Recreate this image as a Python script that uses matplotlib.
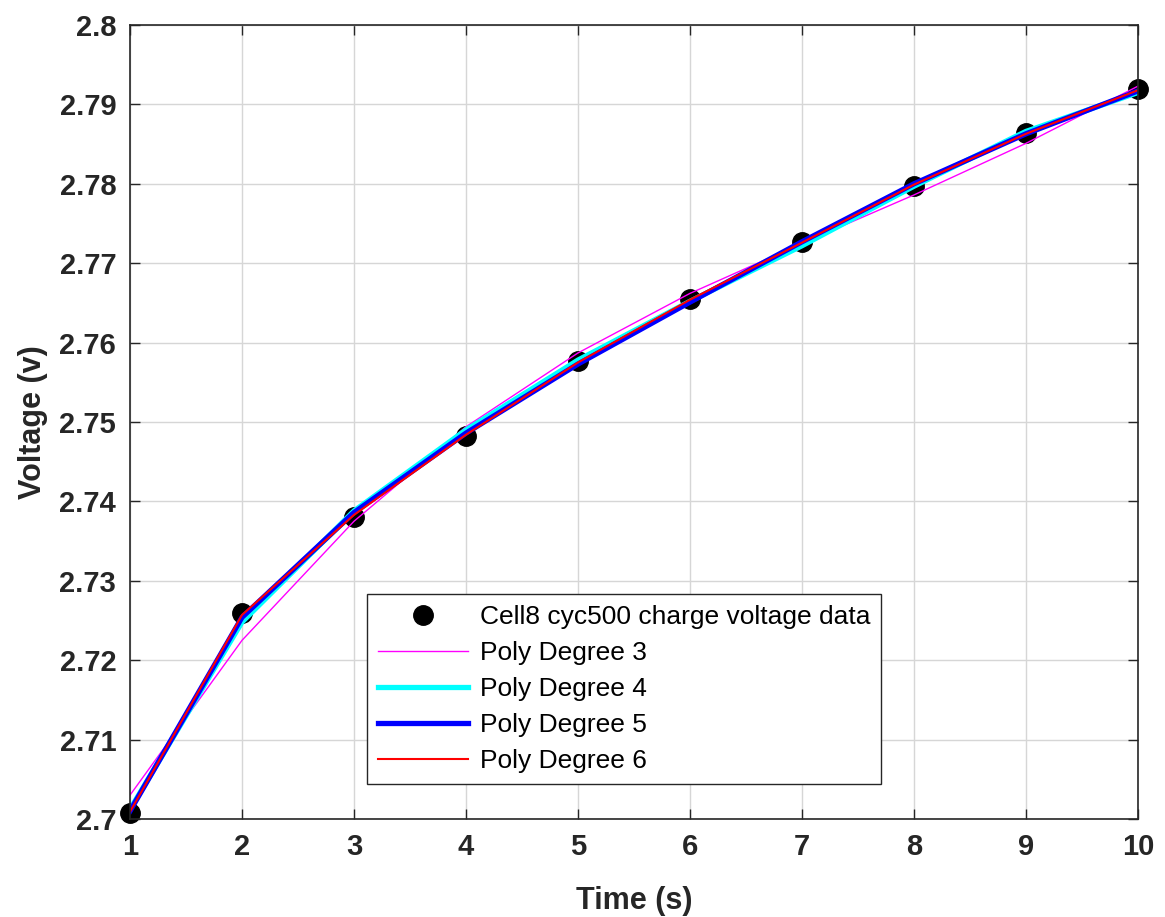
import numpy as np
import matplotlib.pyplot as plt

plt.rcParams['font.family'] = ['Liberation Sans', 'DejaVu Sans']

# measured charge voltage, cell 8 at cycle 500
time_s = [1, 2, 3, 4, 5, 6, 7, 8, 9, 10]
voltage = [2.7008, 2.7259, 2.7380, 2.7482, 2.7577, 2.7655, 2.7727, 2.7797, 2.7864, 2.7919]

# polynomial fits evaluated at the sample times
fit_deg3 = [2.7030, 2.7225, 2.7375, 2.7494, 2.7587, 2.7662, 2.7725, 2.7786, 2.7851, 2.7923]
fit_deg4 = [2.7012, 2.7248, 2.7388, 2.7490, 2.7578, 2.7652, 2.7722, 2.7797, 2.7866, 2.7915]
fit_deg5 = [2.7010, 2.7254, 2.7386, 2.7486, 2.7573, 2.7651, 2.7727, 2.7800, 2.7863, 2.7917]
fit_deg6 = [2.7009, 2.7257, 2.7383, 2.7484, 2.7575, 2.7654, 2.7726, 2.7799, 2.7863, 2.7918]

dark = '#262626'

fig = plt.figure(figsize=(11.65, 9.17), dpi=100)
ax = fig.add_axes([0.1116, 0.1069, 0.8652, 0.8658])

ax.plot(time_s, voltage, 'o', color='black', markersize=14, clip_on=False,
        label='Cell8 cyc500 charge voltage data')
ax.plot(time_s, fit_deg3, color='magenta', lw=1.0, label='Poly Degree 3')
ax.plot(time_s, fit_deg4, color='cyan', lw=3.8, label='Poly Degree 4')
ax.plot(time_s, fit_deg5, color='blue', lw=3.8, label='Poly Degree 5')
ax.plot(time_s, fit_deg6, color='red', lw=1.5, label='Poly Degree 6')

ax.set_xlim(1, 10)
ax.set_ylim(2.7, 2.8)
ax.set_xticks(np.arange(1, 11))
yt = np.round(np.arange(2.7, 2.8001, 0.01), 2)
ax.set_yticks(yt)
ax.set_yticklabels(['%g' % v for v in yt])

ax.grid(True, color='#d6d6d6', lw=1)
ax.set_axisbelow(True)
ax.tick_params(direction='in', top=True, right=True, length=7, width=1, colors=dark,
               labelsize=21, pad=10)
for lbl in ax.get_xticklabels() + ax.get_yticklabels():
    lbl.set_fontweight('bold')
for sp in ax.spines.values():
    sp.set_color(dark)
    sp.set_linewidth(1.2)

ax.set_xlabel('Time (s)', fontsize=22, fontweight='bold', color=dark, labelpad=18)
ax.set_ylabel('Voltage (v)', fontsize=22, fontweight='bold', color=dark, labelpad=8)

leg = ax.legend(loc='lower left', bbox_to_anchor=(0.235, 0.044), borderaxespad=0,
                fontsize=19, handlelength=3.4, labelspacing=0.45, fancybox=False,
                edgecolor=dark, framealpha=1, borderpad=0.42, handletextpad=0.45)
leg.get_frame().set_linewidth(1)

fig.savefig('out.png', dpi=100)
